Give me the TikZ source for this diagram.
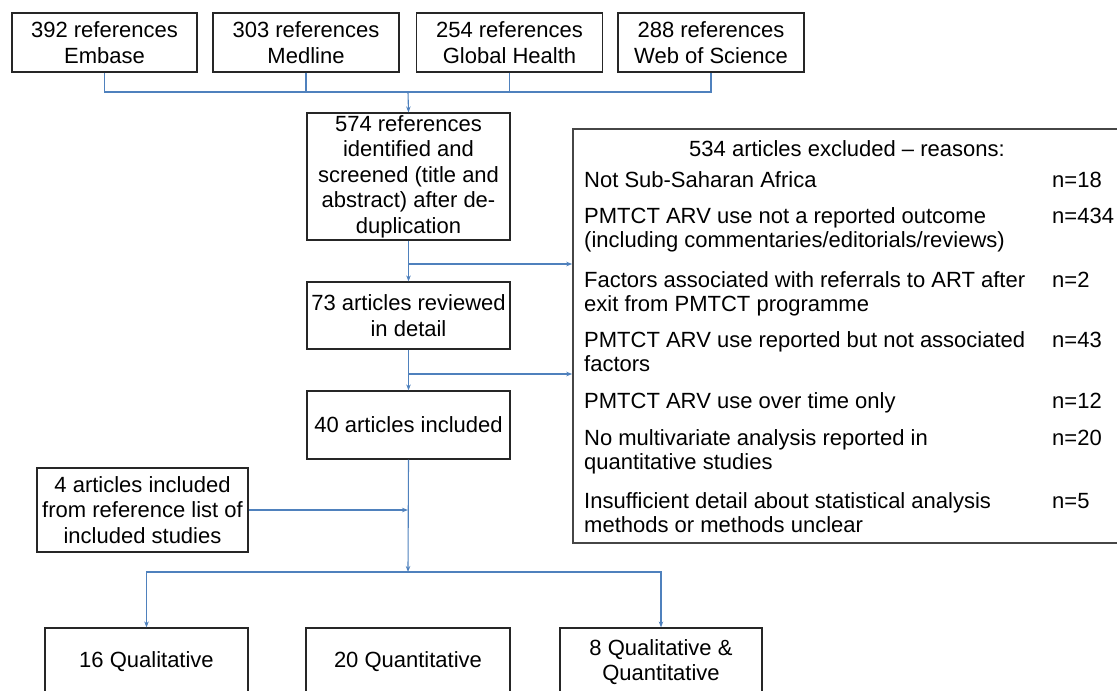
\documentclass[tikz,border=0pt]{standalone}
\usepackage{fontspec}
\setmainfont{Liberation Sans}
\usetikzlibrary{arrows.meta, positioning}
\definecolor{flowblue}{RGB}{79,129,189}
\definecolor{boxgray}{RGB}{70,70,70}

\tikzset{
  stage/.style={draw=black!85, line width=1.2pt, align=center, inner sep=0pt,
    font=\fontsize{22}{25.5}\selectfont},
  reason/.style={inner sep=0pt, align=left, font=\fontsize{22}{24.5}\selectfont},
  link/.style={flowblue, line width=1.1pt},
  arr/.style={link, -{Stealth[length=6pt,width=4.5pt]}},
}

\begin{document}
\begin{tikzpicture}[x=1pt,y=-1pt]
    \useasboundingbox (0,0) rectangle (1117,691);

    % Databases searched
    \node[stage, minimum width=185pt, minimum height=59pt] (emb) at (104.5,42.5) {392 references\\Embase};
    \node[stage, minimum width=186pt, minimum height=59pt] (med) at (306,42.5) {303 references\\Medline};
    \node[stage, minimum width=186pt, minimum height=59pt] (glob) at (509.5,42.5) {254 references\\Global Health};
    \node[stage, minimum width=186pt, minimum height=59pt] (wos) at (711,42.5) {288 references\\Web of Science};

    % Screening stages
    \node[stage, minimum width=203pt, minimum height=127pt] (scr) at (408.5,176.5)
        {574 references\\identified and\\screened (title and\\abstract) after de-\\duplication};
    \node[stage, minimum width=203pt, minimum height=67pt] (rev) at (408.5,315.5) {73 articles reviewed\\in detail};
    \node[stage, minimum width=203pt, minimum height=68pt] (inc) at (408.5,425) {40 articles included};
    \node[stage, minimum width=211pt, minimum height=84pt] (extra) at (142.5,510)
        {4 articles included\\from reference list of\\included studies};

    % Study types
    \node[stage, minimum width=203pt, minimum height=68pt] (qual) at (146.5,662) {16 Qualitative};
    \node[stage, minimum width=204pt, minimum height=68pt] (quan) at (408,662) {20 Quantitative};
    \node[stage, minimum width=202pt, minimum height=68pt] (mix) at (661,662) {8 Qualitative \&\\Quantitative};

    % Exclusion box (first-line baseline / last-line baseline)
    \node[draw=boxgray, line width=1.6pt, inner sep=0pt, minimum width=548pt, minimum height=414pt] (excl) at (847,336) {};
    \node[reason, anchor=base] (exhead) at (847,156) {534 articles excluded – reasons:};
    \foreach \ny/\ty/\why/\cnt [count=\i] in {
        187/187/{Not Sub-Saharan Africa}/18,
        223/247.5/{PMTCT ARV use not a reported outcome\\(including commentaries/editorials/reviews)}/434,
        287/311.5/{Factors associated with referrals to ART after\\exit from PMTCT programme}/2,
        347/371.5/{PMTCT ARV use reported but not associated\\factors}/43,
        408/408/{PMTCT ARV use over time only}/12,
        445/469.5/{No multivariate analysis reported in\\quantitative studies}/20,
        508/532.5/{Insufficient detail about statistical analysis\\methods or methods unclear}/5} {
        \node[reason, anchor=base west] (r\i) at (584,\ty) {\why};
        \node[reason, anchor=base west] (n\i) at (1052,\ny) {n=\cnt};
    }

    % Connectors
    \coordinate (topbus) at (408,92);
    \draw[link] (emb.south) |- (topbus) -| (wos.south);
    \draw[link] (med.south) -- (med.south |- topbus);
    \draw[link] (glob.south) -- (glob.south |- topbus);
    \draw[arr] (topbus) -- (scr.north);

    \draw[arr] (scr.south) -- (rev.north);
    \coordinate (cut1) at (408,264);
    \draw[arr] (cut1) -- (cut1 -| excl.west);
    \draw[arr] (rev.south) -- (inc.north);
    \coordinate (cut2) at (408,374);
    \draw[arr] (cut2) -- (cut2 -| excl.west);

    \coordinate (lowbus) at (408,572);
    \draw[arr] (inc.south) -- (lowbus);
    \draw[arr] (extra.east) -- (extra.east -| lowbus);
    \draw[arr] (lowbus) -| (qual.north);
    \draw[arr] (lowbus) -| (mix.north);
\end{tikzpicture}
\end{document}
